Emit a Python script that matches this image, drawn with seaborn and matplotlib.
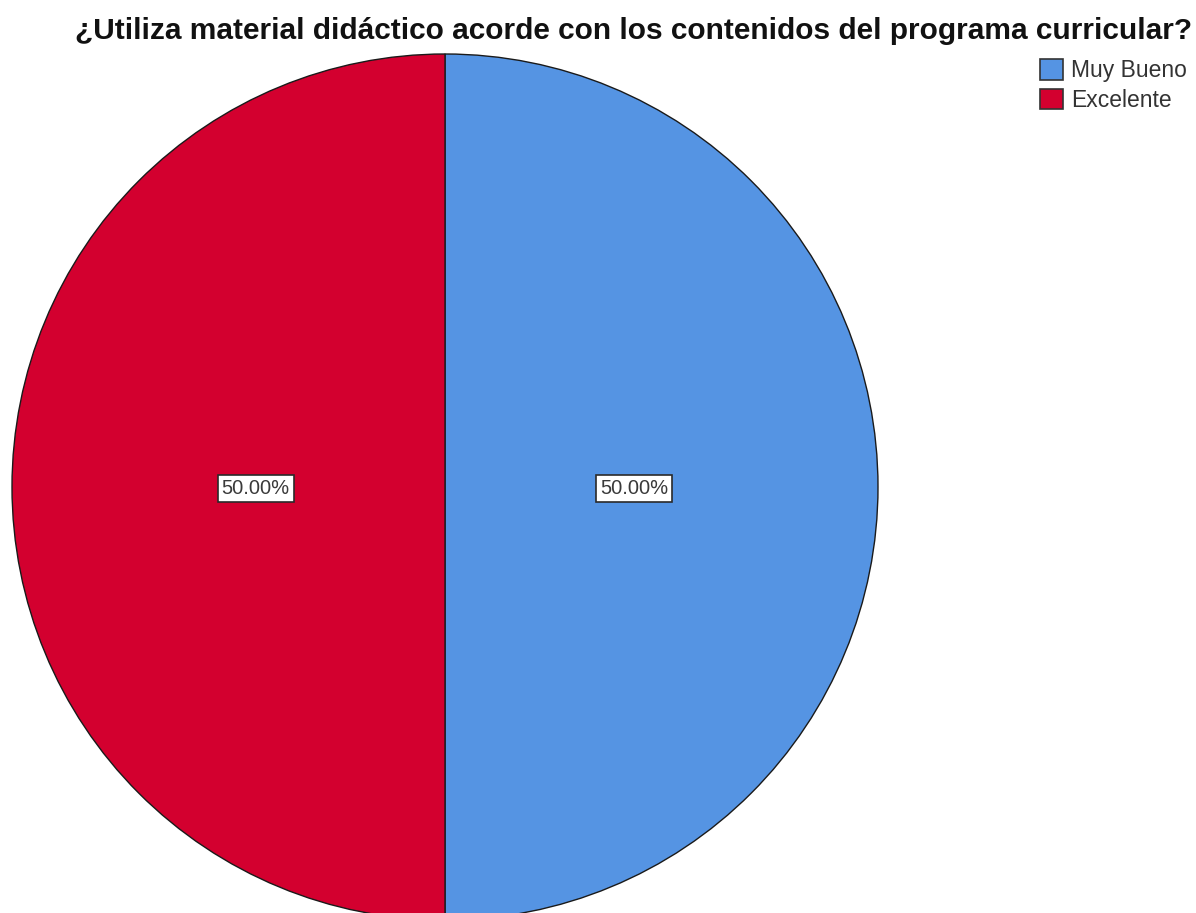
import matplotlib
matplotlib.use("Agg")
import matplotlib.pyplot as plt
import numpy as np
import seaborn as sns
from matplotlib.patches import Patch

categories = ["Muy Bueno", "Excelente"]
values = [50.0, 50.0]
colors = ["#5594E3", "#D3002F"]
title = "¿Utiliza material didáctico acorde con los contenidos del programa curricular?"

sns.set_theme(style="white")
plt.rcParams["font.family"] = ["Liberation Sans", "DejaVu Sans"]

fig = plt.figure(figsize=(11.96, 9.13), dpi=100)
W, H = 1196, 913
cx, cy, r = 445, 487, 433
ax = fig.add_axes([(cx - r) / W, (H - cy - r) / H, 2 * r / W, 2 * r / H])

wedges, _ = ax.pie(values, colors=colors, startangle=90, counterclock=False,
                   radius=1.0, wedgeprops=dict(edgecolor="#1a1a1a", linewidth=1.0))
ax.set_xlim(-1, 1)
ax.set_ylim(-1, 1)
ax.set_aspect("equal")
ax.axis("off")

# percentage labels inside each slice
total = sum(values)
start = 90.0
for v in values:
    ang = np.deg2rad(start - v / total * 360 / 2)
    start -= v / total * 360
    ax.text(0.437 * np.cos(ang), 0.437 * np.sin(ang) - 0.003, f"{v / total * 100:.2f}%",
            ha="center", va="center", fontsize=14.5, color="#3a3a3a",
            bbox=dict(boxstyle="square,pad=0.2", facecolor="white",
                      edgecolor="#2a2a2a", linewidth=1.2))

fig.text(634 / W, 1 - 31 / H, title, ha="center", va="center",
         fontsize=21.5, fontweight="bold", color="#111111")

handles = [Patch(facecolor=c, edgecolor="#333333", linewidth=1.2) for c in colors]
fig.legend(handles, categories, loc="upper left", bbox_to_anchor=(1040 / W, 1 - 59 / H),
           frameon=False, fontsize=16.5, handlelength=1.0, handleheight=1.0,
           handletextpad=0.35, labelspacing=0.3, borderpad=0.0, borderaxespad=0.0,
           labelcolor="#333333")

fig.savefig("out.png", dpi=100)
